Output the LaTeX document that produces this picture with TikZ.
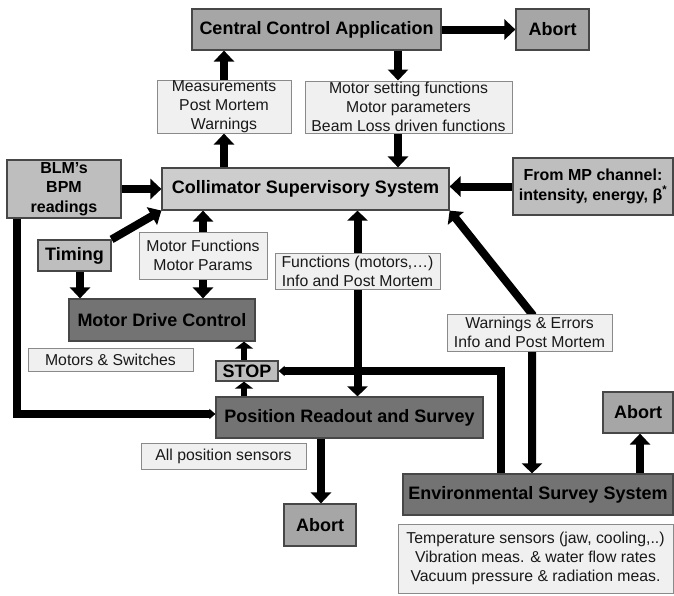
\documentclass[tikz,border=0pt]{standalone}
\usepackage{fontspec}
\setmainfont{Liberation Sans}
\usetikzlibrary{arrows.meta}
\pgfdeclarelayer{bg}
\pgfsetlayers{bg,main}
\definecolor{midgrey}{HTML}{A6A6A6}
\definecolor{softgrey}{HTML}{BEBEBE}
\definecolor{palegrey}{HTML}{CDCDCD}
\definecolor{darkgrey}{HTML}{737373}
\definecolor{notefill}{HTML}{F0F0F0}
\definecolor{edge}{HTML}{474747}
\definecolor{noteedge}{HTML}{8A8A8A}
\begin{document}
\begin{tikzpicture}[x=1pt,y=-1pt,
  box/.style={draw=edge, line width=1.2pt, rectangle, inner sep=0pt, align=center,
    font=\fontsize{18}{21}\selectfont\bfseries},
  sidebox/.style={box, font=\fontsize{16}{19.3}\selectfont\bfseries},
  note/.style={draw=noteedge, line width=1pt, fill=notefill, rectangle, inner sep=0pt,
    align=center, text=black!90, font=\fontsize{15.8}{19}\selectfont},
  bigarrow/.style={line width=8pt, -{Triangle[width=20pt,length=11pt]}},
  twoway/.style={line width=8pt, {Triangle[width=20pt,length=10pt]}-{Triangle[width=20pt,length=10pt]}},
  stoparrow/.style={line width=6pt, -{Triangle[width=18pt,length=7pt]}},
  feedarrow/.style={line width=7.5pt, line join=miter, -{Triangle[width=10pt,length=6pt]}}
]
\useasboundingbox (0,0) rectangle (674,595);

% control blocks
\node[box, fill=midgrey, minimum width=249pt, minimum height=41pt] (cca) at (316.5,29.5) {Central Control Application};
\node[box, fill=midgrey, minimum width=73pt, minimum height=41pt] (abortA) at (552.5,29.5) {Abort};
\node[box, fill=palegrey, minimum width=287pt, minimum height=42pt] (css) at (305.5,189) {Collimator Supervisory System};
\node[sidebox, fill=softgrey, minimum width=114pt, minimum height=58pt] (blm) at (64,189) {BLM’s\\BPM\\readings};
\node[sidebox, fill=softgrey, minimum width=160pt, minimum height=57pt] (mp) at (593,186.5) {From MP channel:\\intensity, energy, β\textsuperscript{*}};
\node[box, fill=softgrey, minimum width=73pt, minimum height=31pt] (timing) at (74.5,255.5) {Timing};
\node[box, fill=darkgrey, minimum width=186pt, minimum height=42pt] (mdc) at (162,320) {Motor Drive Control};
\node[box, fill=softgrey, minimum width=62pt, minimum height=20pt] (stop) at (247,371) {STOP};
\node[box, fill=darkgrey, minimum width=267pt, minimum height=41pt] (pos) at (349.5,417.5) {Position Readout and Survey};
\node[box, fill=midgrey, minimum width=72pt, minimum height=42pt] (abortB) at (320,525) {Abort};
\node[box, fill=midgrey, minimum width=70pt, minimum height=41pt] (abortC) at (638,412.5) {Abort};
\node[box, fill=darkgrey, minimum width=270pt, minimum height=41pt] (env) at (538,494.5) {Environmental Survey System};

% information labels
\node[note, minimum width=134pt, minimum height=52pt] (meas) at (224,107) {Measurements\\Post Mortem\\Warnings};
\node[note, minimum width=207pt, minimum height=52pt] (mset) at (408.5,107) {Motor setting functions\\Motor parameters\\Beam Loss driven functions};
\node[note, minimum width=128pt, minimum height=47pt] (mfun) at (203,255.5) {Motor Functions\\Motor Params};
\node[note, minimum width=165pt, minimum height=36pt] (func) at (357.5,271) {Functions (motors,…)\\Info and Post Mortem};
\node[note, minimum width=165pt, minimum height=23pt] (msw) at (110.5,359.5) {Motors \& Switches};
\node[note, minimum width=165pt, minimum height=37pt] (warn) at (529.5,332.5) {Warnings \& Errors\\Info and Post Mortem};
\node[note, minimum width=165pt, minimum height=26pt] (allpos) at (223.5,456) {All position sensors};
\node[note, minimum width=275pt, minimum height=69pt] (temp) at (535.5,558.5) {Temperature sensors (jaw, cooling,..)\\Vibration meas. \& water flow rates\\Vacuum pressure \& radiation meas.};

% routing points
\coordinate (xmset) at (398,0);
\coordinate (xtim) at (80,0);
\coordinate (xstop) at (244,0);
\coordinate (xpos) at (321,0);
\coordinate (xab) at (640,0);
\coordinate (blmcorner) at (17,414);
\coordinate (warncorner) at (532,314);
\coordinate (stopcorner) at (501,371);

\begin{pgfonlayer}{bg}
  \draw[bigarrow] (cca.east) -- (abortA.west);
  \draw[bigarrow] (meas.north) -- (meas.north |- cca.south);
  \draw[bigarrow] (css.north -| meas.south) -- (meas.south);
  \draw[bigarrow] (cca.south -| xmset) -- (mset.north -| xmset);
  \draw[bigarrow] (mset.south -| xmset) -- (css.north -| xmset);
  \draw[bigarrow] (blm.east) -- (css.west);
  \draw[bigarrow] (mp.west) -- (mp.west -| css.east);
  \draw[bigarrow] (timing.north east) -- (css.south west);
  \draw[bigarrow] (timing.south -| xtim) -- (mdc.north -| xtim);
  \draw[bigarrow] (mfun.north) -- (mfun.north |- css.south);
  \draw[bigarrow] (mfun.south) -- (mfun.south |- mdc.north);
  \draw[twoway] (css.south -| func.north) -- (pos.north -| func.north);
  \draw[twoway, line join=miter] (env.north -| warncorner) -- (warncorner) -- (css.south east);
  \draw[feedarrow] (env.north -| stopcorner) -- (stopcorner) -- (stop.east);
  \draw[stoparrow] (pos.north -| xstop) -- (stop.south -| xstop);
  \draw[stoparrow] (stop.north -| xstop) -- (mdc.south -| xstop);
  \draw[bigarrow] (pos.south -| xpos) -- (abortB.north -| xpos);
  \draw[bigarrow] (env.north -| xab) -- (abortC.south -| xab);
  \draw[feedarrow] (blm.south -| blmcorner) -- (blmcorner) -- (blmcorner -| pos.west);
\end{pgfonlayer}
\end{tikzpicture}
\end{document}
